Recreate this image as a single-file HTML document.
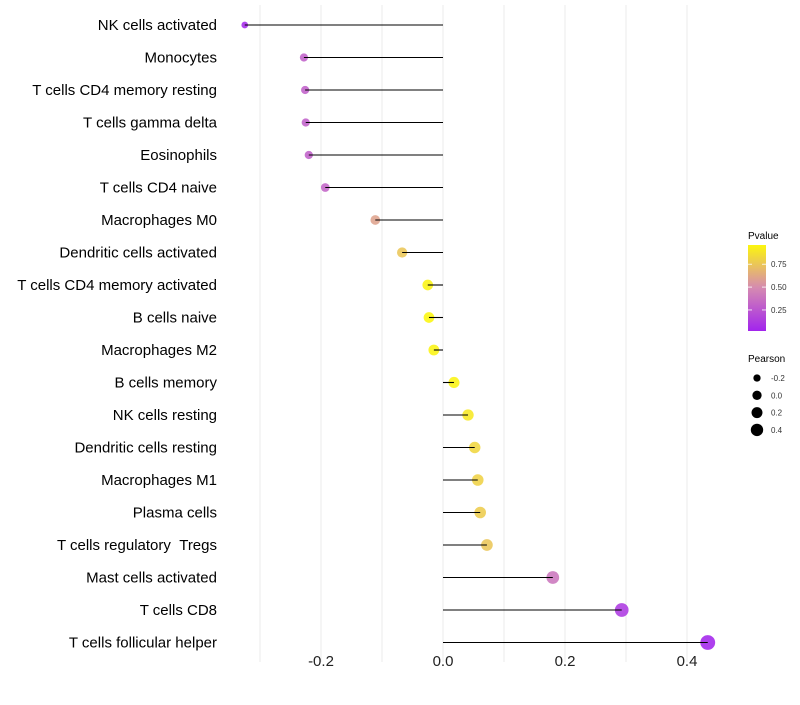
<!DOCTYPE html>
<html><head><meta charset="utf-8"><style>
body{margin:0;background:#fff;font-family:"Liberation Sans",sans-serif}
</style></head><body>
<svg id="chart" width="800" height="700" xmlns="http://www.w3.org/2000/svg" font-family="Liberation Sans, sans-serif"></svg>
<script>
const categories=["NK cells activated","Monocytes","T cells CD4 memory resting","T cells gamma delta","Eosinophils","T cells CD4 naive","Macrophages M0","Dendritic cells activated","T cells CD4 memory activated","B cells naive","Macrophages M2","B cells memory","NK cells resting","Dendritic cells resting","Macrophages M1","Plasma cells","T cells regulatory\u00a0\u00a0Tregs","Mast cells activated","T cells CD8","T cells follicular helper"];
const pearson=[-0.325,-0.228,-0.226,-0.225,-0.22,-0.193,-0.111,-0.067,-0.025,-0.023,-0.015,0.018,0.041,0.052,0.057,0.061,0.072,0.18,0.293,0.434];
const pvalue=[0.05,0.3,0.3,0.3,0.3,0.32,0.6,0.75,0.95,0.96,0.95,0.95,0.9,0.82,0.8,0.78,0.75,0.4,0.12,0.03];
const xTicks=[-0.2,0,0.2,0.4];
const xTickLabels=["-0.2","0.0","0.2","0.4"];
const gridVals=[-0.3,-0.2,-0.1,0,0.1,0.2,0.3,0.4];
const legendP=[0.25,0.5,0.75];
const legendR=[-0.2,0,0.2,0.4];

const svg=document.getElementById('chart');
const NS="http://www.w3.org/2000/svg";
const x=v=>443+v*610;
const y=i=>25+i*32.5;
const rad=v=>Math.sqrt(Math.max(2.5,31+58*(v-0.018)));
function mix(a,b,t){return a.map((c,i)=>Math.round(c+(b[i]-c)*t));}
function col(p){const s=[[0,[160,32,240]],[0.5,[214,140,176]],[1,[255,255,0]]];
 const t=Math.max(0,Math.min(1,p));
 const k=t<0.5?0:1;const u=(t-s[k][0])/(s[k+1][0]-s[k][0]);
 const c=mix(s[k][1],s[k+1][1],u);return `rgb(${c[0]},${c[1]},${c[2]})`;}
function el(tag,attrs,parent){const e=document.createElementNS(NS,tag);for(const k in attrs)e.setAttribute(k,attrs[k]);(parent||svg).appendChild(e);return e;}

gridVals.forEach(g=>{const l=el('line',{x1:x(g),x2:x(g),y1:5,y2:662,stroke:'#ebebeb','stroke-width':1});

});

categories.forEach((c,i)=>{
 const t=el('text',{x:217,y:y(i)+5,'text-anchor':'end','font-size':15,fill:'#000'});t.textContent=c;
 
 
 const d=el('circle',{cx:x(pearson[i]),cy:y(i),r:rad(pearson[i]),fill:col(pvalue[i]),'fill-opacity':0.88});
 
 
 const l=el('line',{x1:x(0),x2:x(pearson[i]),y1:y(i),y2:y(i),stroke:'#000','stroke-width':1.1});
 
 
});

xTicks.forEach((v,i)=>{const t=el('text',{x:x(v),y:666,'text-anchor':'middle','font-size':15,fill:'#222'});t.textContent=xTickLabels[i];
 
 });

const lt=el('text',{x:748,y:239,'font-size':10,fill:'#000'});lt.textContent='Pvalue';


const defs=el('defs',{});
const gr=el('linearGradient',{id:'pg',x1:0,y1:1,x2:0,y2:0},defs);
for(let k=0;k<=10;k++){el('stop',{offset:k/10,'stop-color':col(0.02+0.94*k/10)},gr);}
const cb=el('rect',{x:748,y:245,width:18,height:86,fill:'url(#pg)'});


const py=p=>331-(p-0.02)/0.94*86;
legendP.forEach(p=>{
 el('line',{x1:748,x2:752,y1:py(p),y2:py(p),stroke:'#fff','stroke-width':0.8});
 el('line',{x1:762,x2:766,y1:py(p),y2:py(p),stroke:'#fff','stroke-width':0.8});
 const t=el('text',{x:771,y:py(p)+3,'font-size':8,fill:'#333'});t.textContent=p.toFixed(2);
 
 });

const pt=el('text',{x:748,y:362,'font-size':10,fill:'#000'});pt.textContent='Pearson';


legendR.forEach((v,i)=>{const cy=378+i*17.3;
 const c=el('circle',{cx:757,cy:cy,r:rad(v)*0.85,fill:'#000'});
 
 
 const t=el('text',{x:771,y:cy+3,'font-size':8,fill:'#333'});t.textContent=v.toFixed(1);
 
 });
</script>
</body></html>
